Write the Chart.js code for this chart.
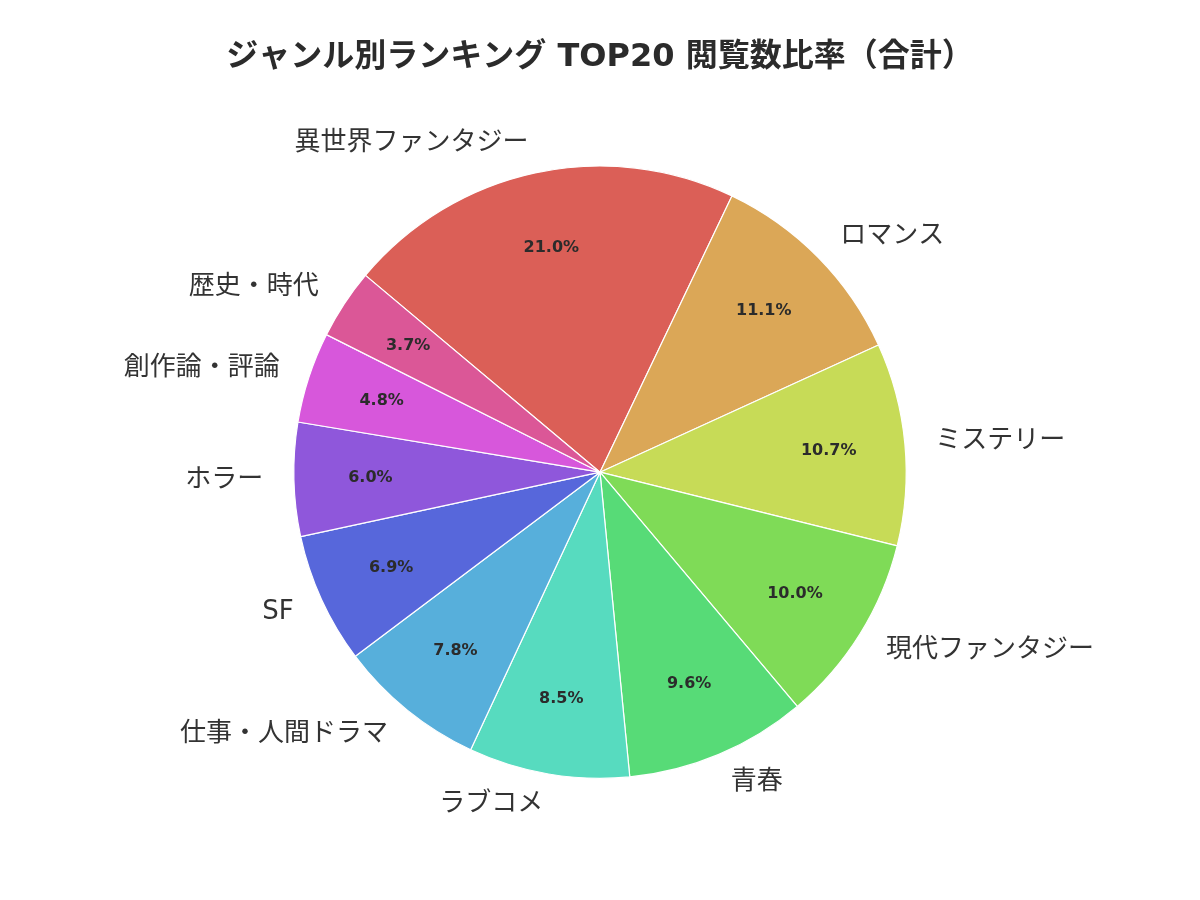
<!DOCTYPE html>
<html>
<head>
<meta charset="utf-8">
<script src="https://cdn.jsdelivr.net/npm/chart.js@4"></script>
<style>
  html, body { margin: 0; padding: 0; background: #fff; }
  canvas { display: block; }
</style>
</head>
<body>
<canvas id="genrePie" width="1200" height="900"></canvas>
<script>
// ジャンル別 閲覧数比率 (%)
const genres = ['異世界ファンタジー', 'ロマンス', 'ミステリー', '現代ファンタジー', '青春', 'ラブコメ',
  '仕事・人間ドラマ', 'SF', 'ホラー', '創作論・評論', '歴史・時代'];
const shares = [21.0, 11.1, 10.7, 10.0, 9.6, 8.5, 7.8, 6.9, 6.0, 4.8, 3.7];
const sliceColors = ['#db5f57', '#dba757', '#c7db57', '#7fdb57', '#57db77', '#57dbbf',
  '#57afdb', '#5767db', '#8f57db', '#d757db', '#db5797'];

// 英数字は DejaVu、かなと漢字は Noto CJK
const FONT = '"DejaVu Sans", "Noto Sans CJK JP", sans-serif';

// 外側のジャンル名と内側のパーセンテージを描く
const sliceLabels = {
  id: 'sliceLabels',
  afterDatasetsDraw(chart) {
    const ctx = chart.ctx;
    const arcs = chart.getDatasetMeta(0).data;
    ctx.save();
    arcs.forEach((arc, i) => {
      const mid = (arc.startAngle + arc.endAngle) / 2;
      const r = arc.outerRadius;
      const cos = Math.cos(mid), sin = Math.sin(mid);

      // パーセント (0.75r)
      ctx.font = 'bold 16px "DejaVu Sans", sans-serif';
      ctx.fillStyle = '#2b2b2b';
      ctx.textAlign = 'center';
      ctx.textBaseline = 'middle';
      ctx.fillText(shares[i].toFixed(1) + '%', arc.x + cos * r * 0.75, arc.y + sin * r * 0.75);

      // ジャンル名 (1.1r)
      const lx = arc.x + cos * r * 1.1;
      const ly = arc.y + sin * r * 1.1;
      ctx.font = '26px ' + FONT;
      ctx.fillStyle = '#333';
      ctx.textAlign = cos < 0 ? 'right' : 'left';
      ctx.fillText(genres[i], lx, ly);
    });
    ctx.restore();
  }
};

new Chart(document.getElementById('genrePie'), {
  type: 'pie',
  data: {
    labels: genres,
    datasets: [{
      data: shares,
      backgroundColor: sliceColors,
      borderColor: '#ffffff',
      borderWidth: 1.2
    }]
  },
  options: {
    responsive: false,
    animation: false,
    devicePixelRatio: 1,
    rotation: -50,
    layout: { padding: { bottom: 121 } },
    plugins: {
      legend: { display: false },
      tooltip: { enabled: false },
      title: {
        display: true,
        text: 'ジャンル別ランキング TOP20 閲覧数比率（合計）',
        color: '#2b2b2b',
        font: { family: FONT, size: 32, weight: 'bold' },
        padding: { top: 38, bottom: 89 }
      }
    }
  },
  plugins: [sliceLabels]
});
</script>
</body>
</html>
